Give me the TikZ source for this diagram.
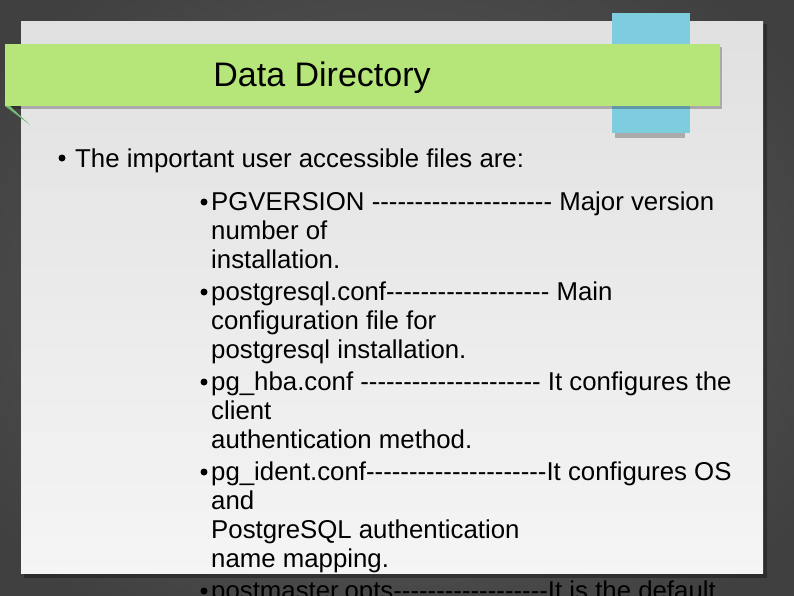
\documentclass[tikz,border=0pt]{standalone}
\usepackage{fontspec}
\setmainfont{Liberation Sans}[Ligatures=TeXOff]
\begin{document}
\begin{tikzpicture}[x=1pt,y=-1pt,
  ln/.style={anchor=base west,inner sep=0pt,font=\fontsize{25.8}{30}\selectfont},
  bul/.style={fill=black,circle,inner sep=0pt,minimum size=7pt}]
\useasboundingbox (0,0) rectangle (794,595);
\clip (0,0) rectangle (794,595);
\shade[inner color=gray!75!black,outer color=black!75] (-100,-100) rectangle (894,695);
\fill[black,opacity=0.3] (24,24) rectangle (767,578);
\shade[top color=black!12,bottom color=black!4] (21,21) rectangle (763,573);
\fill[black,opacity=0.25] (615,16) rectangle (685,138);
\fill[fill={rgb,255:red,125;green,205;blue,222}] (612,13) rectangle (690,133);
\fill[black,opacity=0.25] (8,47) rectangle (722,109);
\fill[green!50!black!55!white] (5,106) -- (10,106) -- (30,125) -- cycle;
\fill[fill={rgb,255:red,182;green,230;blue,122}] (5,44) rectangle (720,106);
\node[anchor=base,inner sep=0pt,font=\fontsize{34}{40}\selectfont] (title) at (322,86) {Data Directory};
\node[bul] (b0) at (62,158) {};
\node[ln] (t0) at (75,167) {The important user accessible files are:};
\foreach \y/\t/\b in {
 210/{PGVERSION --------------------- Major version}/1,
 239/{number of}/0,
 268/{installation.}/0,
 300/{postgresql.conf------------------- Main}/1,
 329/{configuration file for}/0,
 358/{postgresql installation.}/0,
 390/{pg\_hba.conf --------------------- It configures the}/1,
 419/{client}/0,
 448/{authentication method.}/0,
 480/{pg\_ident.conf---------------------It configures OS}/1,
 509/{and}/0,
 538/{PostgreSQL authentication}/0,
 567/{name mapping.}/0,
 599/{postmaster.opts------------------It is the default}/1}{
  \node[ln] at (211,\y) {\t};
  \ifnum\b=1 \node[bul] at (204,\y-8) {};\fi
}
\end{tikzpicture}
\end{document}
